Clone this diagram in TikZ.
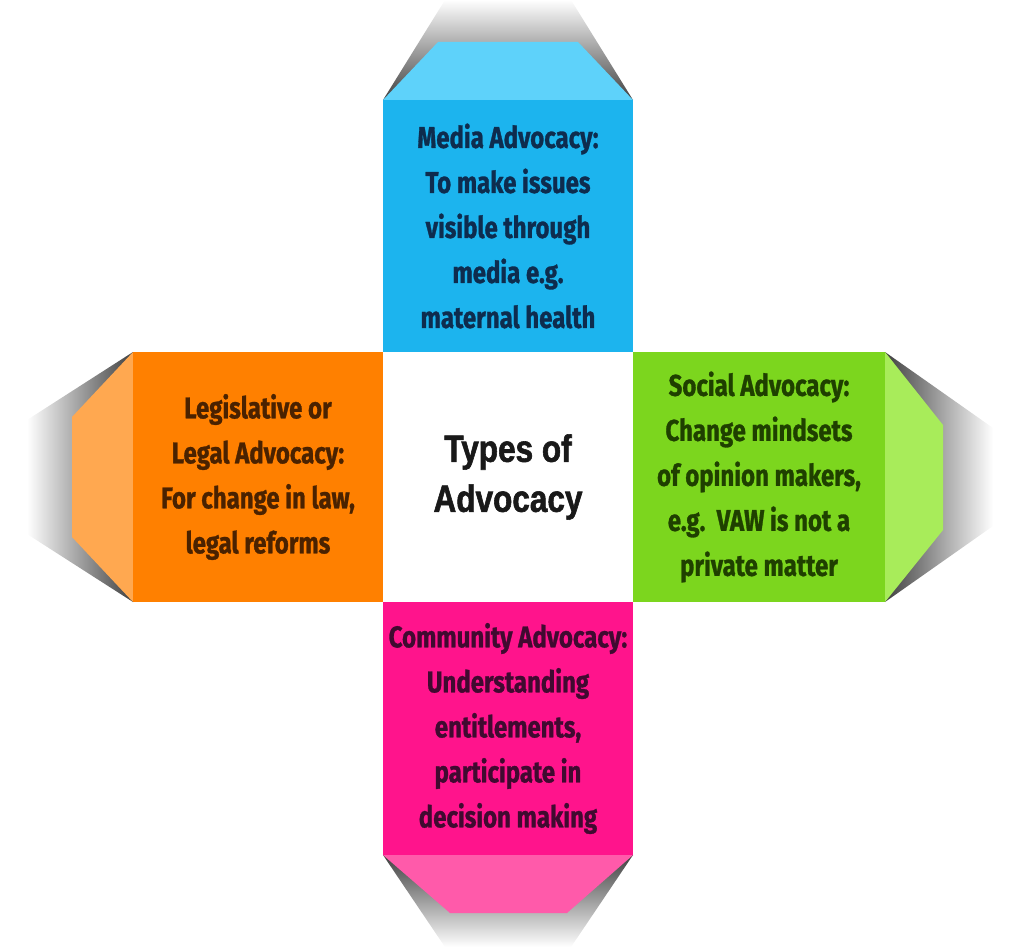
\documentclass[tikz,border=0pt]{standalone}
\usepackage{fontspec}
\newfontfamily\condf{Fira Sans}[FakeStretch=0.8, FakeBold=1]
\newfontfamily\headf{Liberation Sans Bold}[FakeStretch=0.83, FakeBold=1.5]
\definecolor{cblue}{HTML}{1CB4EE}
\definecolor{lblue}{HTML}{5ED2FA}
\definecolor{corange}{HTML}{FF8000}
\definecolor{lorange}{HTML}{FFA850}
\definecolor{cgreen}{HTML}{7CD61E}
\definecolor{lgreen}{HTML}{A8EC5A}
\definecolor{cpink}{HTML}{FF148C}
\definecolor{lpink}{HTML}{FF5AAA}
\definecolor{tblue}{HTML}{0E2C4E}
\definecolor{torange}{HTML}{4A2200}
\definecolor{tgreen}{HTML}{1F4000}
\definecolor{tpink}{HTML}{400A30}
\begin{document}
\begin{tikzpicture}[x=1pt,y=-1pt,
  box/.style={minimum width=250pt, minimum height=250pt, inner sep=0pt, align=center,
    font=\condf\bfseries\fontsize{30}{45}\selectfont},
  hub/.style={minimum width=250pt, minimum height=250pt, inner sep=0pt, align=center,
    fill=white, text=black!90, font=\headf\fontsize{38}{50}\selectfont}]
\useasboundingbox (0,0) rectangle (1016,947);
% shadows
\shade[top color=white, bottom color=black!75] (383,100) -- (445,0) -- (571,0) -- (633,100) -- cycle;
\shade[bottom color=white, top color=black!75] (383,855) -- (445,947) -- (571,947) -- (633,855) -- cycle;
\shade[left color=white, right color=black!75] (133,352) -- (27,420) -- (27,534) -- (133,602) -- cycle;
\shade[right color=white, left color=black!75] (885,352) -- (993,428) -- (993,526) -- (885,602) -- cycle;
% flaps
\fill[lblue] (383,100) -- (438,42) -- (578,42) -- (633,100) -- cycle;
\fill[lpink] (383,855) -- (450,913) -- (567,913) -- (633,855) -- cycle;
\fill[lorange] (133,352) -- (72,417) -- (72,537) -- (133,602) -- cycle;
\fill[lgreen] (885,352) -- (943,425) -- (943,530) -- (885,602) -- cycle;
% boxes
\node[hub] (hub) at (508,477) {Types of\\Advocacy};
\node[box, fill=cblue, text=tblue, minimum height=252pt] (media) at (508,226)
  {Media Advocacy:\\To make issues\\visible through\\media e.g.\\maternal health};
\node[box, fill=corange, text=torange] (legal) at (258,477)
  {Legislative or\\Legal Advocacy:\\For change in law,\\legal reforms};
\node[box, fill=cgreen, text=tgreen, minimum width=252pt] (social) at (759,477)
  {Social Advocacy:\\Change mindsets\\of opinion makers,\\e.g.\ \ VAW is not a\\private matter};
\node[box, fill=cpink, text=tpink, minimum height=253pt] (community) at (508,728.5)
  {Community Advocacy:\\Understanding\\entitlements,\\participate in\\decision making};
\end{tikzpicture}
\end{document}
